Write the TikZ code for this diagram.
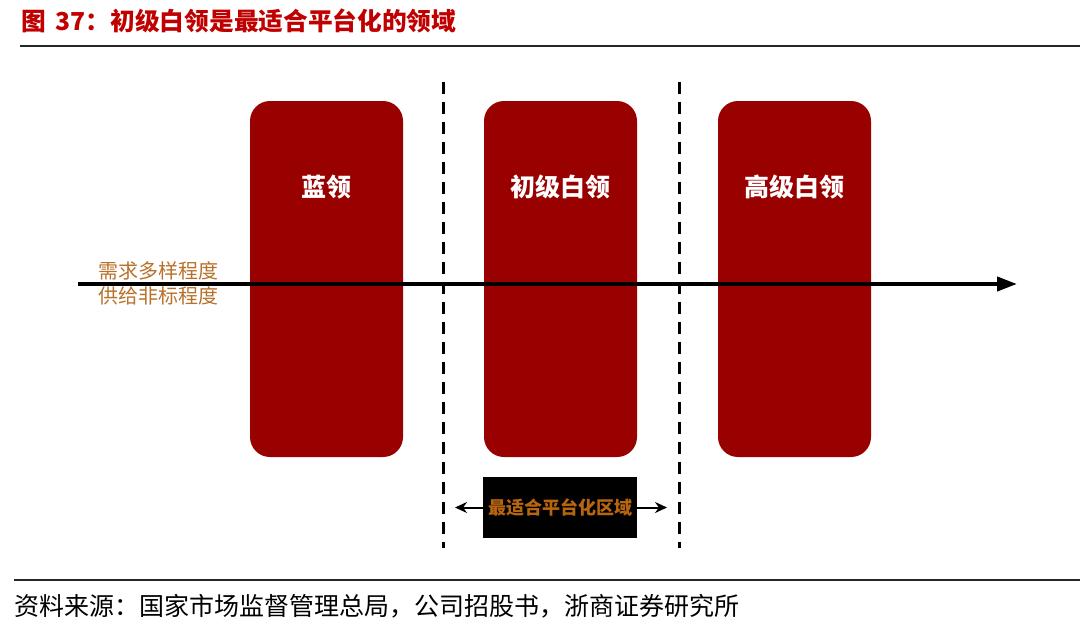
\documentclass[tikz,border=0pt]{standalone}
\usepackage{fontspec}
\newfontfamily\cjk{Noto Sans CJK SC}
\usetikzlibrary{arrows.meta}
\definecolor{boxred}{HTML}{990000}
\definecolor{titlered}{HTML}{C00000}
\definecolor{lblbrown}{HTML}{B8702A}
\definecolor{areaorange}{HTML}{B8650F}
\tikzset{
  colbox/.style={fill=boxred, draw=none, rounded corners=20pt},
  collabel/.style={text=white, font=\cjk\bfseries\fontsize{25}{28}\selectfont},
  divline/.style={line width=3pt, dash pattern=on 12pt off 8pt},
  axislbl/.style={text=lblbrown, font=\cjk\fontsize{20}{23}\selectfont},
  rulel/.style={line width=1.6pt, black!85},
  smallarrow/.style={line width=2pt, -{Stealth[length=12pt,width=11pt]}},
}
\begin{document}
\begin{tikzpicture}[x=1pt,y=-1pt]
\useasboundingbox (0,0) rectangle (1080,624);
% title
\node[anchor=west, text=titlered, font=\cjk\bfseries\fontsize{24.7}{28}\selectfont, inner sep=0] (title) at (21,21) {图\hspace{0.4em}37：初级白领是最适合平台化的领域};
\coordinate (tr1) at (20,46); \coordinate (tr2) at (1080,46);
\draw[rulel] (tr1) -- (tr2);
% boxes
\fill[colbox] (250,101) rectangle (403,457);
\fill[colbox] (484,101) rectangle (637,457);
\fill[colbox] (718,101) rectangle (871,457);
\node[collabel] (b1) at (326.5,187) {蓝领};
\node[collabel] (b2) at (560.5,187) {初级白领};
\node[collabel] (b3) at (794.5,187) {高级白领};
% dashed dividers
\coordinate (d1t) at (443,82); \coordinate (d1b) at (443,548);
\coordinate (d2t) at (679,82); \coordinate (d2b) at (679,548);
\draw[divline] (d1t) -- (d1b);
\draw[divline] (d2t) -- (d2b);
% axis
\coordinate (as) at (78,284); \coordinate (ae) at (1017,284);
\draw[line width=4pt, -{Triangle[length=20pt,width=14pt]}] (as) -- (ae);
\node[axislbl] (l1) at (158,271) {需求多样程度};
\node[axislbl] (l2) at (158,296) {供给非标程度};
% black area box
\node[fill=black, minimum width=154pt, minimum height=61pt, inner sep=0, text=areaorange, font=\cjk\bfseries\fontsize{18}{21}\selectfont] (area) at (560,507.5) {最适合平台化区域};
\coordinate (al) at (455,507.5); \coordinate (ar) at (667,507.5);
\draw[smallarrow] (area.west) -- (al);
\draw[smallarrow] (area.east) -- (ar);
% bottom rule and source
\coordinate (br1) at (14,580); \coordinate (br2) at (1080,580);
\draw[rulel] (br1) -- (br2);
\node[anchor=west, inner sep=0, font=\cjk\fontsize{25}{28}\selectfont] (src) at (14,606) {资料来源：国家市场监督管理总局，公司招股书，浙商证券研究所};
\end{tikzpicture}
\end{document}
